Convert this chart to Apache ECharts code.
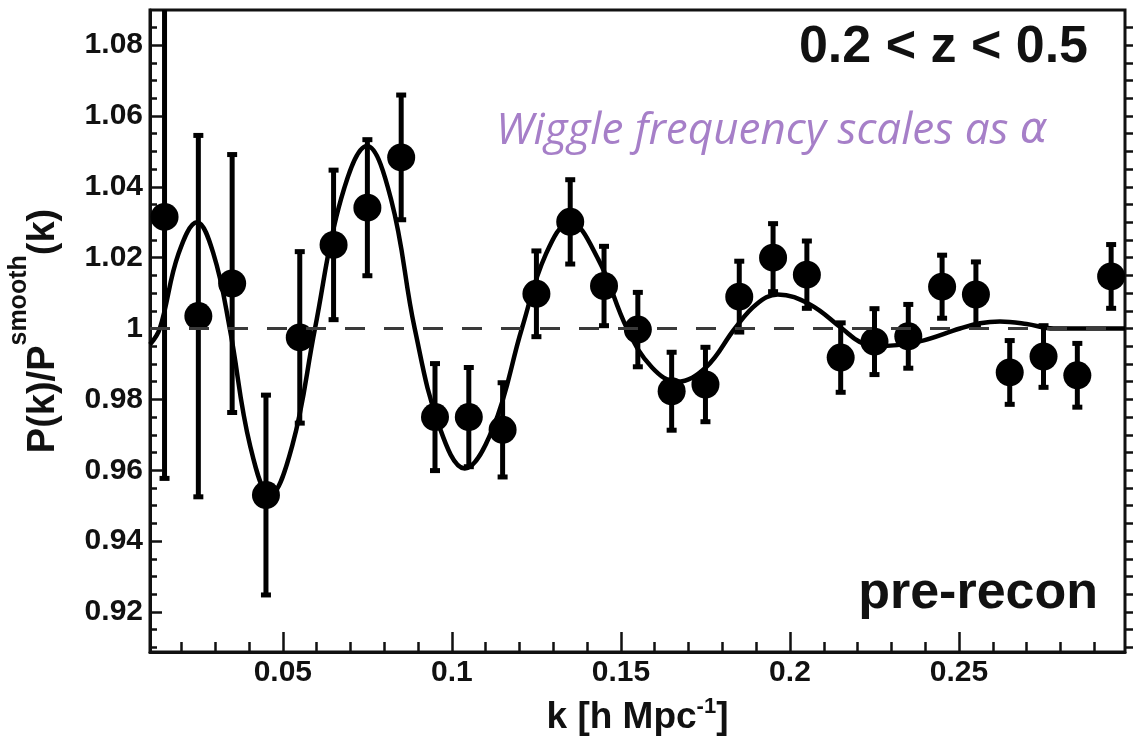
<!DOCTYPE html>
<html>
<head>
<meta charset="utf-8">
<script src="https://cdn.jsdelivr.net/npm/echarts@6/dist/echarts.min.js"></script>
<style>
  html, body { margin: 0; padding: 0; background: #fff; }
  #chart { width: 1133px; height: 740px; }
</style>
</head>
<body>
<div id="chart"></div>
<script>
// measured band powers, k bin centres
const kValues = [0.015, 0.025, 0.035, 0.045, 0.055, 0.065, 0.075, 0.085, 0.095, 0.105,
  0.115, 0.125, 0.135, 0.145, 0.155, 0.165, 0.175, 0.185, 0.195, 0.205,
  0.215, 0.225, 0.235, 0.245, 0.255, 0.265, 0.275, 0.285, 0.295];
const ratioValues = [1.0315, 1.0035, 1.0127, 0.9530, 0.9975, 1.0236, 1.0341, 1.0483, 0.9750, 0.9750,
  0.9714, 1.0098, 1.0301, 1.0120, 0.9997, 0.9823, 0.9842, 1.0090, 1.0200, 1.0152,
  0.9918, 0.9963, 0.9978, 1.0118, 1.0096, 0.9876, 0.9921, 0.9868, 1.0147];
const errorValues = [0.0738, 0.0510, 0.0364, 0.0282, 0.0242, 0.0211, 0.0192, 0.0176, 0.0151, 0.0140,
  0.0133, 0.0121, 0.0119, 0.0112, 0.0105, 0.0110, 0.0105, 0.0100, 0.0096, 0.0095,
  0.0098, 0.0093, 0.0090, 0.0089, 0.0092, 0.0090, 0.0087, 0.0090, 0.0090];

// best-fit wiggle model
const curveK = [0.0107, 0.0136, 0.0191, 0.0246, 0.0295, 0.0343, 0.0403, 0.0462, 0.0528, 0.0595,
  0.0672, 0.0749, 0.0820, 0.0890, 0.0964, 0.1038, 0.1122, 0.1207, 0.1278, 0.1349,
  0.1433, 0.1518, 0.1592, 0.1666, 0.1751, 0.1837, 0.1900, 0.1964, 0.2059, 0.2154,
  0.2205, 0.2257, 0.2380, 0.2503, 0.2562, 0.2621, 0.2700, 0.2780, 0.2880, 0.2991];
const curveRatio = [0.9955, 1.0000, 1.0210, 1.0300, 1.0210, 1.0000, 0.9670, 0.9530, 0.9670, 1.0000,
  1.0365, 1.0515, 1.0365, 1.0000, 0.9720, 0.9605, 0.9720, 1.0000, 1.0210, 1.0300,
  1.0195, 1.0000, 0.9890, 0.9850, 0.9890, 1.0000, 1.0068, 1.0096, 1.0068, 1.0000,
  0.9963, 0.9950, 0.9963, 1.0000, 1.0015, 1.0020, 1.0013, 1.0000, 1.0000, 1.0000];

const xTickLabels = ['0.05', '0.1', '0.15', '0.2', '0.25'];
const xMinorTicks = [0.02, 0.03, 0.04, 0.06, 0.07, 0.08, 0.09, 0.11, 0.12, 0.13, 0.14,
  0.16, 0.17, 0.18, 0.19, 0.21, 0.22, 0.23, 0.24, 0.26, 0.27, 0.28, 0.29];
const yTickLabels = ['0.92', '0.94', '0.96', '0.98', '1', '1.02', '1.04', '1.06', '1.08'];
const yMinorTicks = [0.91, 0.915, 0.925, 0.93, 0.935, 0.945, 0.95, 0.955, 0.965, 0.97, 0.975,
  0.985, 0.99, 0.995, 1.005, 1.01, 1.015, 1.025, 1.03, 1.035, 1.045, 1.05, 1.055,
  1.065, 1.07, 1.075, 1.085];

const X_MIN = 0.0107, X_MAX = 0.2991;
const Y_MIN = 0.9087, Y_MAX = 1.0899;
const FONT = '"Liberation Sans", Arial, Helvetica, sans-serif';
const INK = '#111';

const chart = echarts.init(document.getElementById('chart'), null, { renderer: 'canvas' });

const xMajor = xTickLabels.map(Number);
const yMajor = yTickLabels.map(Number);
const labelFor = (list, v) => list.find((s) => Math.abs(Number(s) - v) < 1e-9) || '';

const hiddenAxisBits = { axisLine: { show: false }, axisLabel: { show: false }, splitLine: { show: false } };
const tickLine = { color: INK, width: 2.5 };

const option = {
  backgroundColor: '#fff',
  animation: false,
  grid: { left: 150, right: 8, top: 10, bottom: 88, show: true, borderColor: INK, borderWidth: 3, outerBoundsMode: 'none' },
  xAxis: [
    {
      type: 'value', min: X_MIN, max: X_MAX, position: 'bottom',
      axisLine: { show: true, onZero: false, lineStyle: { color: INK, width: 3 } },
      axisTick: { show: true, inside: true, length: 20, customValues: xMajor, lineStyle: tickLine },
      axisLabel: { customValues: xMajor, formatter: (v) => labelFor(xTickLabels, v), margin: 6, fontSize: 30, fontWeight: 'bold', fontFamily: FONT, color: INK },
      splitLine: { show: false },
      name: '{m|k [h Mpc}{sup|-1}{m|]}', nameLocation: 'middle', nameGap: 44, nameMoveOverlap: false,
      nameTextStyle: {
        rich: {
          m: { fontSize: 37, lineHeight: 44, fontWeight: 'bold', fontFamily: FONT, color: INK },
          sup: { fontSize: 22, lineHeight: 22, verticalAlign: 'top', fontWeight: 'bold', fontFamily: FONT, color: INK }
        }
      }
    },
    {
      // minor ticks every 0.01
      type: 'value', min: X_MIN, max: X_MAX, position: 'bottom', ...hiddenAxisBits,
      axisTick: { show: true, inside: true, length: 10, customValues: xMinorTicks, lineStyle: tickLine }
    }
  ],
  yAxis: [
    {
      type: 'value', min: Y_MIN, max: Y_MAX, position: 'left',
      axisLine: { show: true, onZero: false, lineStyle: { color: INK, width: 3 } },
      axisTick: { show: true, inside: true, length: 12, customValues: yMajor, lineStyle: tickLine },
      axisLabel: { customValues: yMajor, formatter: (v) => labelFor(yTickLabels, v), margin: 7, fontSize: 30, fontWeight: 'bold', fontFamily: FONT, color: INK },
      splitLine: { show: false },
      name: '{m|P(k)/P}{sup|smooth}{m|(k)}', nameLocation: 'middle', nameRotate: 90, nameGap: 70, nameMoveOverlap: false,
      nameTextStyle: {
        rich: {
          m: { fontSize: 38, lineHeight: 73, fontWeight: 'bold', fontFamily: FONT, color: INK },
          sup: { fontSize: 25, lineHeight: 25, verticalAlign: 'top', fontWeight: 'bold', fontFamily: FONT, color: INK }
        }
      }
    },
    {
      type: 'value', min: Y_MIN, max: Y_MAX, position: 'left', ...hiddenAxisBits,
      axisTick: { show: true, inside: true, length: 7, customValues: yMinorTicks, lineStyle: tickLine }
    },
    {
      type: 'value', min: Y_MIN, max: Y_MAX, position: 'right', ...hiddenAxisBits,
      axisTick: { show: true, inside: false, length: 8, customValues: yMinorTicks.concat(yMajor), lineStyle: tickLine }
    }
  ],
  series: [
    {
      name: 'error',
      type: 'custom',
      z: 2,
      clip: true,
      encode: { x: 0, y: [1, 2] },
      data: kValues.map((k, i) => [k, ratioValues[i] - errorValues[i], ratioValues[i] + errorValues[i]]),
      renderItem: (params, api) => {
        const lo = api.coord([api.value(0), api.value(1)]);
        const hi = api.coord([api.value(0), api.value(2)]);
        return {
          type: 'group',
          children: [
            { type: 'line', shape: { x1: hi[0], y1: hi[1], x2: lo[0], y2: lo[1] }, style: { stroke: '#000', lineWidth: 5 } },
            { type: 'rect', shape: { x: hi[0] - 5, y: hi[1] - 2.5, width: 10, height: 5 }, style: { fill: '#000' } },
            { type: 'rect', shape: { x: lo[0] - 5, y: lo[1] - 2.5, width: 10, height: 5 }, style: { fill: '#000' } }
          ]
        };
      },
      markLine: {
        silent: true,
        symbol: 'none',
        label: { show: false },
        lineStyle: { color: '#3a3a3a', width: 3, type: [20, 19] },
        data: [{ yAxis: 1 }]
      }
    },
    {
      name: 'model',
      type: 'line',
      z: 3,
      smooth: 0.4,
      showSymbol: false,
      clip: true,
      data: curveK.map((k, i) => [k, curveRatio[i]]),
      lineStyle: { color: '#000', width: 4.5 }
    },
    {
      name: 'data',
      type: 'scatter',
      z: 4,
      symbol: 'circle',
      symbolSize: 28,
      data: kValues.map((k, i) => [k, ratioValues[i]]),
      itemStyle: { color: '#000', opacity: 1 }
    }
  ],
  graphic: [
    {
      type: 'text', x: 1088, y: 48, z: 10,
      style: { text: '0.2 < z < 0.5', font: 'bold 52px ' + FONT, fill: INK, align: 'right', verticalAlign: 'middle', textAlign: 'right', textVerticalAlign: 'middle' }
    },
    {
      type: 'text', x: 1098, y: 594, z: 10,
      style: { text: 'pre-recon', font: 'bold 52px ' + FONT, fill: INK, align: 'right', verticalAlign: 'middle', textAlign: 'right', textVerticalAlign: 'middle' }
    },
    {
      type: 'text', x: 496, y: 131, z: 10,
      style: {
        text: '{t|Wiggle frequency scales as }{g|α}',
        fill: '#a67fc8', align: 'left', verticalAlign: 'middle', textAlign: 'left', textVerticalAlign: 'middle',
        rich: {
          t: { fontSize: 44, fontStyle: 'italic', fontFamily: '"Open Sans", "Noto Sans", sans-serif', fill: '#a67fc8', color: '#a67fc8' },
          g: { fontSize: 42, fontStyle: 'italic', fontFamily: '"DejaVu Sans", sans-serif', fill: '#a67fc8', color: '#a67fc8' }
        }
      }
    }
  ]
};

chart.setOption(option);
window.addEventListener('resize', () => chart.resize());
</script>
</body>
</html>
